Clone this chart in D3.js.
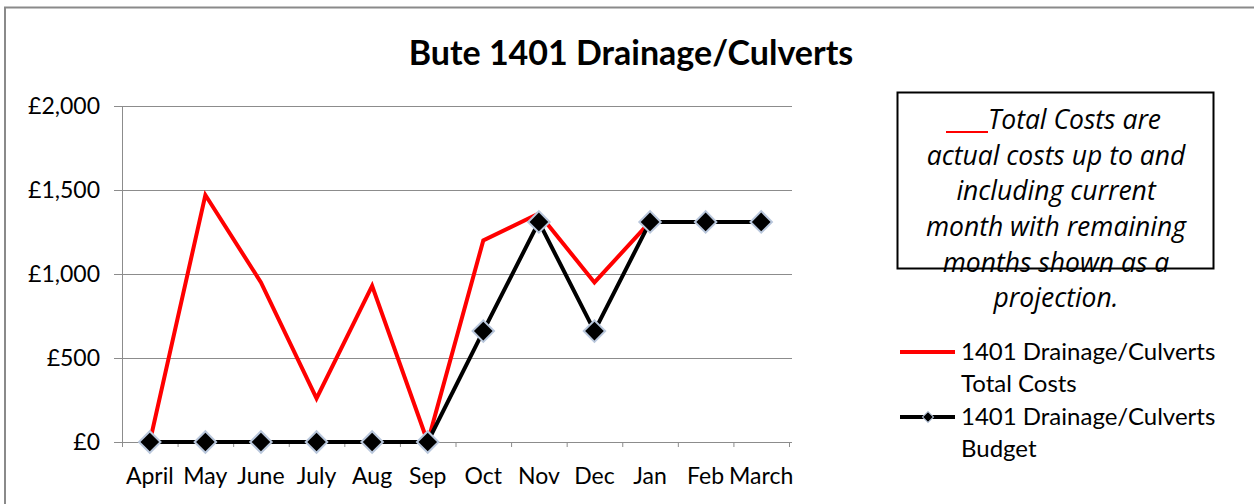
<!DOCTYPE html>
<html><head><meta charset="utf-8">
<script src="https://cdn.jsdelivr.net/npm/d3@7"></script>
<style>body{margin:0;background:#fff}svg{display:block}</style>
</head><body>
<svg id="c" width="1254" height="504"></svg>
<script>
const months = ["April","May","June","July","Aug","Sep","Oct","Nov","Dec","Jan","Feb","March"];
const totalCosts = [0,1470,950,260,930,0,1200,1360,950,1310];
const budget = [0,0,0,0,0,0,660,1310,660,1310,1310,1310];
const yTicks = [0,500,1000,1500,2000];
const title = "Bute 1401 Drainage/Culverts";
const noteLines = ["Total Costs are","actual costs up to and","including current","month with remaining","months shown as a","projection."];
const legendItems = [
  {lines:["1401 Drainage/Culverts","Total Costs"], color:"#ff0000", marker:false},
  {lines:["1401 Drainage/Culverts","Budget"], color:"#000000", marker:true}
];

const svg = d3.select("#c");
const font = "Lato, 'Open Sans', sans-serif";

// outer border
svg.append("rect").attr("x",5).attr("y",7.5).attr("width",1260).attr("height",520)
  .attr("fill","none").attr("stroke","#8a8a8a").attr("stroke-width",2);

const x = d3.scaleBand().domain(months).range([122,789]);
const y = d3.scaleLinear().domain([0,2000]).range([442,106]);

// gridlines
svg.append("g").selectAll("line").data(yTicks).join("line")
  .attr("x1",114).attr("x2",792).attr("y1",d=>y(d)+0.5).attr("y2",d=>y(d)+0.5)
  .attr("stroke","#8c8c8c").attr("stroke-width",1);
svg.append("line").attr("x1",122.5).attr("x2",122.5).attr("y1",y(2000)).attr("y2",y(0)+4)
  .attr("stroke","#8c8c8c");
svg.append("g").selectAll("line").data(d3.range(months.length+1)).join("line")
  .attr("x1",i=>122.5+i*x.step()).attr("x2",i=>122.5+i*x.step())
  .attr("y1",y(0)).attr("y2",y(0)+5).attr("stroke","#8c8c8c");

// y labels
svg.append("g").selectAll("text").data(yTicks).join("text")
  .attr("x",100).attr("y",d=>y(d)).attr("dy","0.35em").attr("text-anchor","end")
  .attr("font-family",font).attr("font-size",23).attr("fill","#000")
  .text(d=>"£"+d3.format(",")(d));
// x labels
svg.append("g").selectAll("text").data(months).join("text")
  .attr("x",d=>x(d)+x.bandwidth()/2).attr("y",476).attr("dy","0.35em").attr("text-anchor","middle")
  .attr("font-family",font).attr("font-size",23).attr("fill","#000")
  .text(d=>d);

// title
svg.append("text").attr("x",631).attr("y",53).attr("dy","0.35em").attr("text-anchor","middle")
  .attr("font-family",font).attr("font-weight","bold").attr("font-size",34).text(title);

const cx = (d,i)=>x(months[i])+x.bandwidth()/2;
const line = d3.line().x((d,i)=>cx(d,i)).y(d=>y(d));

svg.append("path").datum(totalCosts).attr("d",line).attr("fill","none")
  .attr("stroke","#ff0000").attr("stroke-width",4).attr("stroke-linejoin","miter");
svg.append("path").datum(budget).attr("d",line).attr("fill","none")
  .attr("stroke","#000").attr("stroke-width",4);

const diamond = d3.symbol().type(d3.symbolSquare).size(230);
svg.append("g").selectAll("path").data(budget).join("path")
  .attr("transform",(d,i)=>`translate(${cx(d,i)},${y(d)}) rotate(45)`)
  .attr("d",diamond).attr("fill","#000").attr("stroke","#b9c7dc").attr("stroke-width",2);

// note box
svg.append("rect").attr("x",897.5).attr("y",92.5).attr("width",316).attr("height",176)
  .attr("fill","none").attr("stroke","#000").attr("stroke-width",2);
svg.append("line").attr("x1",946).attr("x2",988).attr("y1",132).attr("y2",132)
  .attr("stroke","#ff0000").attr("stroke-width",2);
svg.append("g").selectAll("text").data(noteLines).join("text")
  .attr("x",(d,i)=>i===0?988:1056).attr("y",(d,i)=>120+i*35.6).attr("dy","0.35em")
  .attr("text-anchor",(d,i)=>i===0?"start":"middle").attr("font-family","'Open Sans', sans-serif").attr("font-style","italic")
  .attr("font-size",26.5).text(d=>d);

// legend
legendItems.forEach((it,k)=>{
  const ly = 352 + k*65;
  svg.append("line").attr("x1",900).attr("x2",955).attr("y1",ly).attr("y2",ly)
    .attr("stroke",it.color).attr("stroke-width",4);
  if(it.marker){
    svg.append("path").attr("d",d3.symbol().type(d3.symbolSquare).size(60)())
      .attr("transform",`translate(928,${ly}) rotate(45)`).attr("fill","#000")
      .attr("stroke","#b9c7dc").attr("stroke-width",1);
  }
  it.lines.forEach((t,j)=>{
    svg.append("text").attr("x",961).attr("y",ly+j*31.5).attr("dy","0.35em")
      .attr("font-family",font).attr("font-size",24).text(t);
  });
});
</script>
</body></html>
